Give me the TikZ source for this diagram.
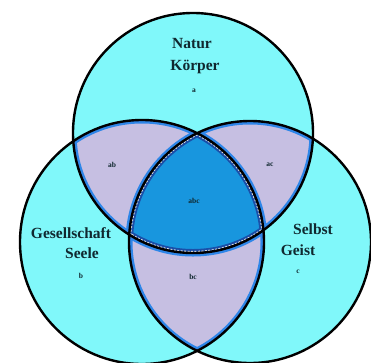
\documentclass[tikz,border=0pt]{standalone}
\usepackage{fontspec}
\setmainfont{Liberation Serif}
\definecolor{aqua}{HTML}{80F8FA}
\definecolor{lav}{HTML}{C6BFE2}
\definecolor{edgeblue}{HTML}{2E86E8}
\definecolor{core}{HTML}{1896DE}
\definecolor{coreedge}{HTML}{1A4FA8}
\definecolor{ink}{HTML}{10282F}
\tikzset{
  big/.style={font=\fontsize{15.5}{18}\selectfont\bfseries, text=ink, inner sep=0pt},
  small/.style={font=\fontsize{7.5}{9}\selectfont\bfseries, text=ink, inner sep=0pt},
  rim/.style={draw=black, line width=2.4pt},
}
\begin{document}
\begin{tikzpicture}[x=1pt,y=-1pt]
\useasboundingbox (0,0) rectangle (371,362);
\coordinate (A) at (193,133);
\coordinate (B) at (142,242);
\coordinate (C) at (250,242);
\def\ra{120pt}\def\rb{122pt}\def\rc{121pt}
\begin{scope}
\clip (0,0) rectangle (371,362);
% base fills
\fill[aqua] (A) circle[radius=\ra];
\fill[aqua] (B) circle[radius=\rb];
\fill[aqua] (C) circle[radius=\rc];
% pairwise lenses
\begin{scope}
  \clip (A) circle[radius=\ra]; \clip (B) circle[radius=\rb];
  \fill[lav] (0,0) rectangle (371,362);
  \draw[edgeblue, line width=7pt] (A) circle[radius=\ra] (B) circle[radius=\rb] (C) circle[radius=\rc];
\end{scope}
\begin{scope}
  \clip (A) circle[radius=\ra]; \clip (C) circle[radius=\rc];
  \fill[lav] (0,0) rectangle (371,362);
  \draw[edgeblue, line width=7pt] (A) circle[radius=\ra] (B) circle[radius=\rb] (C) circle[radius=\rc];
\end{scope}
\begin{scope}
  \clip (B) circle[radius=\rb]; \clip (C) circle[radius=\rc];
  \fill[lav] (0,0) rectangle (371,362);
  \draw[edgeblue, line width=7pt] (A) circle[radius=\ra] (B) circle[radius=\rb] (C) circle[radius=\rc];
\end{scope}
% triple intersection
\begin{scope}
  \clip (A) circle[radius=\ra]; \clip (B) circle[radius=\rb]; \clip (C) circle[radius=\rc];
  \fill[core] (0,0) rectangle (371,362);
  \draw[coreedge, line width=8pt] (A) circle[radius=\ra] (B) circle[radius=\rb] (C) circle[radius=\rc];
  \draw[white!80!gray, line width=4.2pt, dash pattern=on 2pt off 1.5pt] (A) circle[radius=\ra] (B) circle[radius=\rb] (C) circle[radius=\rc];
\end{scope}
% outlines
\draw[rim] (A) circle[radius=\ra];
\draw[rim] (B) circle[radius=\rb];
\draw[rim] (C) circle[radius=\rc];
\end{scope}
% labels
\node[big] (natur) at (192,44) {Natur};
\node[big] (koerper) at (195,67) {Körper};
\node[small] (la) at (194,91) {a};
\node[big] (ges) at (71,233) {Gesellschaft};
\node[big] (seele) at (82,253) {Seele};
\node[small] (lb) at (81,276) {b};
\node[big] (selbst) at (313,229) {Selbst};
\node[big] (geist) at (298,250) {Geist};
\node[small] (lc) at (298,272) {c};
\node[small] (lab) at (112,165) {ab};
\node[small] (lac) at (270,165) {ac};
\node[small] (labc) at (194,201) {abc};
\node[small] (lbc) at (193,277) {bc};
\end{tikzpicture}
\end{document}
